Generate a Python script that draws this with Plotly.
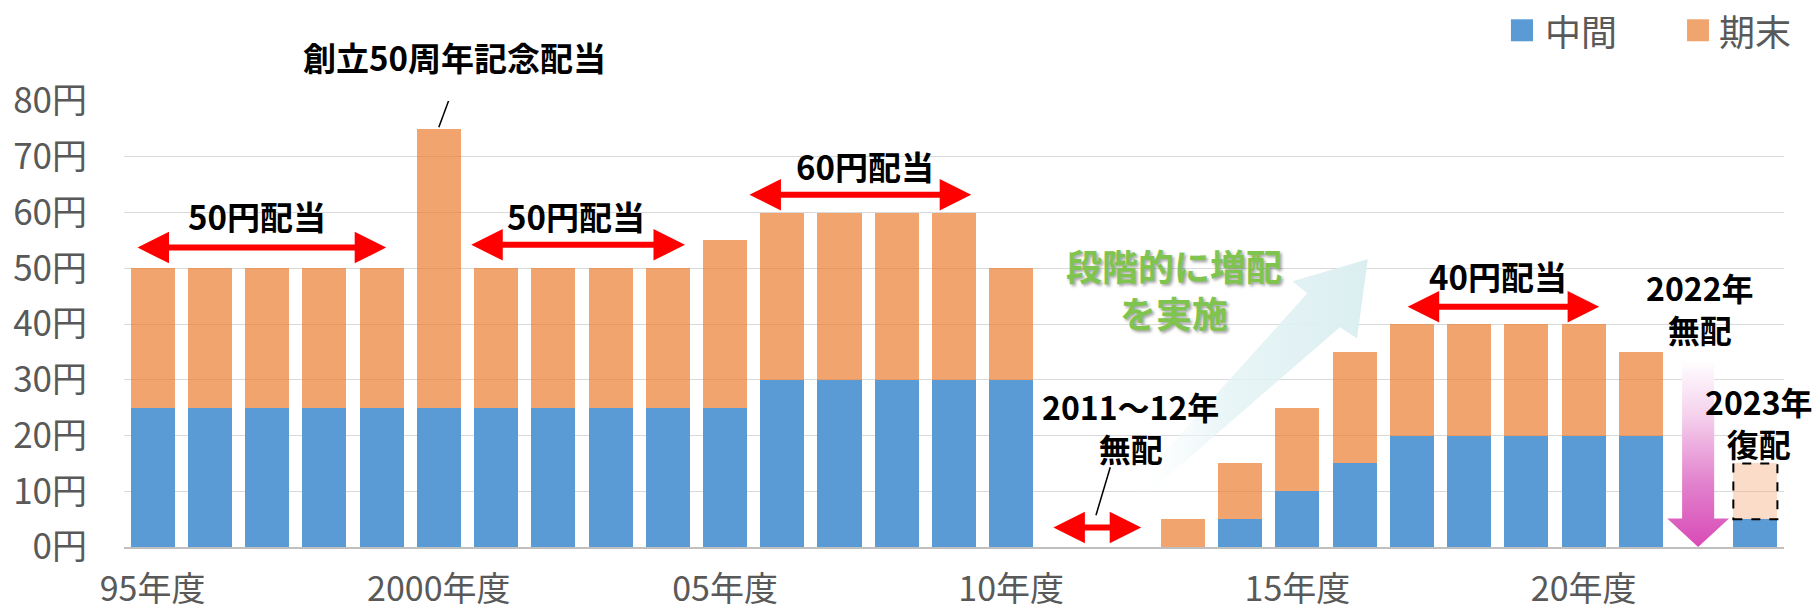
import plotly.graph_objects as go

# ---------------- data ----------------
years = list(range(1995, 2024))
interim = [25, 25, 25, 25, 25, 25, 25, 25, 25, 25, 25,
           30, 30, 30, 30, 30,
           0, 0, 0, 5, 10, 15, 20, 20, 20, 20, 20, 0, 5]
final = [25, 25, 25, 25, 25, 50, 25, 25, 25, 25, 30,
         30, 30, 30, 30, 20,
         0, 0, 5, 10, 15, 20, 20, 20, 20, 20, 15, 0, 0]
forecast_years = [2023]
forecast_final = [10]

xtick_vals = [1995, 2000, 2005, 2010, 2015, 2020]
xtick_text = ["95年度", "2000年度", "05年度", "10年度", "15年度", "20年度"]
ytick_vals = [0, 10, 20, 30, 40, 50, 60, 70, 80]
ytick_text = ["0円", "10円", "20円", "30円", "40円", "50円", "60円", "70円", "80円"]

FONT = "Noto Sans CJK JP"
GRAY = "#595959"
BLUE = "#5B9BD5"
ORANGE = "rgba(237,125,49,0.7)"
BAR_W = 0.77

fig = go.Figure()

# ---------------- decorations under bars ----------------
# light blue rising arrow (2013-2016)
up_x = [2012.04, 2015.17, 2014.91, 2016.23, 2016.04, 2015.74, 2012.25, 2012.04]
up_y = [9.81, 45.5, 47.66, 51.6, 37.43, 39.4, 8.38, 9.81]
fig.add_trace(go.Scatter(
    x=up_x, y=up_y, mode="lines", fill="toself", line=dict(width=0),
    fillgradient=dict(type="horizontal", start=2012.0, stop=2016.25,
                      colorscale=[[0, "rgba(255,255,255,0)"],
                                  [0.4, "rgba(228,243,245,0.8)"],
                                  [1, "rgba(218,238,240,1)"]]),
    hoverinfo="skip", showlegend=False))

# pink falling arrow (2022)
dn_x = [2021.72, 2022.28, 2022.28, 2022.54, 2022.0, 2021.46, 2021.72, 2021.72]
dn_y = [33.5, 33.5, 5.1, 5.1, 0.0, 5.1, 5.1, 33.5]
fig.add_trace(go.Scatter(
    x=dn_x, y=dn_y, mode="lines", fill="toself", line=dict(width=0),
    fillgradient=dict(type="vertical", start=0, stop=33.5,
                      colorscale=[[0, "#D84AB6"], [0.35, "#E283CE"],
                                  [0.7, "#F5D0EC"], [1, "#FFFFFF"]]),
    hoverinfo="skip", showlegend=False))

# ---------------- bars ----------------
fig.add_trace(go.Bar(x=years, y=interim, name="中間",
                     marker=dict(color=BLUE, line=dict(width=0)),
                     width=BAR_W, showlegend=False))
fig.add_trace(go.Bar(x=years, y=final, name="期末",
                     marker=dict(color=ORANGE, line=dict(width=0)),
                     width=BAR_W, showlegend=False))
fig.add_trace(go.Bar(x=forecast_years, y=forecast_final, name="期末（予想）",
                     marker=dict(color="rgba(247,177,135,0.45)", line=dict(width=0)),
                     width=BAR_W, showlegend=False))

shapes = []
# dashed outline around forecast
for fy, fv in zip(forecast_years, forecast_final):
    base = interim[years.index(fy)] + final[years.index(fy)]
    shapes.append(dict(type="rect", xref="x", yref="y",
                       x0=fy - BAR_W / 2, x1=fy + BAR_W / 2, y0=base, y1=base + fv,
                       line=dict(color="black", width=2, dash="dash"),
                       fillcolor="rgba(0,0,0,0)", layer="above"))

# thin leader lines
shapes.append(dict(type="line", xref="x", yref="y", x0=2000.27, y0=82.8, x1=2000.0, y1=75.3,
                   line=dict(color="black", width=1.5)))
shapes.append(dict(type="line", xref="x", yref="y", x0=2011.73, y0=14.3, x1=2011.48, y1=5.7,
                   line=dict(color="black", width=1.5)))

# custom legend squares
shapes.append(dict(type="rect", xref="paper", yref="paper", x0=0.8355, x1=0.8488,
                   y0=1.1339, y1=1.1832, fillcolor=BLUE, line=dict(width=0)))
shapes.append(dict(type="rect", xref="paper", yref="paper", x0=0.9416, x1=0.9548,
                   y0=1.1339, y1=1.1832, fillcolor="#F0A46E", line=dict(width=0)))

annotations = []


def red_arrow(x0, x1, y):
    annotations.append(dict(x=x1, y=y, ax=x0, ay=y, xref="x", yref="y",
                            axref="x", ayref="y", text="", showarrow=True,
                            arrowside="end+start", arrowhead=2, startarrowhead=2,
                            arrowsize=1.05, startarrowsize=1.05, arrowwidth=6,
                            arrowcolor="#FF0000", standoff=0, startstandoff=0))


def label(text, x, y, size=33, color="black", yref="y", **kw):
    annotations.append(dict(x=x, y=y, xref="x", yref=yref, text=text,
                            showarrow=False, xanchor="center", yanchor="middle",
                            align="center",
                            font=dict(family=FONT, size=size, color=color,
                                      weight="bold", **kw)))


red_arrow(1994.71, 1999.08, 53.7)
red_arrow(2000.54, 2004.30, 54.2)
red_arrow(2005.40, 2009.30, 63.2)
red_arrow(2016.90, 2020.27, 43.1)
red_arrow(2010.71, 2012.27, 3.5)

label("創立50周年記念配当", 2000.28, 1.098, yref="paper")
label("50円配当", 1996.82, 59.3)
label("50円配当", 2002.40, 59.3)
label("60円配当", 2007.44, 68.3)
label("40円配当", 2018.51, 48.7)
label("2011～12年<br>無配", 2012.09, 21.6, size=32)
label("2022年<br>無配", 2022.03, 42.9, size=32)
label("2023年<br>復配", 2023.06, 22.5, size=32)
label("段階的に増配", 2012.84, 50.5, size=36, color="#7EC44E",
      shadow="2px 2px 3px rgba(0,0,0,0.35)")
label("を実施", 2012.84, 42.2, size=36, color="#7EC44E",
      shadow="2px 2px 3px rgba(0,0,0,0.35)")

# legend text
annotations.append(dict(x=0.855, y=1.1585, xref="paper", yref="paper", text="中間",
                        showarrow=False, xanchor="left", yanchor="middle",
                        font=dict(family=FONT, size=36, color=GRAY)))
annotations.append(dict(x=0.9595, y=1.1585, xref="paper", yref="paper", text="期末",
                        showarrow=False, xanchor="left", yanchor="middle",
                        font=dict(family=FONT, size=36, color=GRAY)))

fig.update_layout(
    width=1818, height=613,
    margin=dict(l=124, r=34, t=101, b=66, autoexpand=False),
    paper_bgcolor="white", plot_bgcolor="white",
    barmode="stack", bargap=0.23,
    font=dict(family=FONT, color=GRAY),
    showlegend=False,
    shapes=shapes, annotations=annotations,
    xaxis=dict(range=[1994.5, 2023.5], tickmode="array", tickvals=xtick_vals,
               ticktext=xtick_text, tickfont=dict(family=FONT, size=34, color=GRAY),
               showgrid=False, showline=True, linecolor="#BFBFBF", linewidth=1.5,
               ticks="", ticklabelstandoff=11, zeroline=False, fixedrange=True,
               automargin=False),
    yaxis=dict(range=[0, 80], tickmode="array", tickvals=ytick_vals,
               ticktext=ytick_text, tickfont=dict(family=FONT, size=35, color=GRAY),
               showgrid=True, gridcolor="#D9D9D9", gridwidth=1, zeroline=False,
               ticks="", ticklabelstandoff=36, showline=False, fixedrange=True,
               automargin=False),
)

fig.write_html("out.html", config={"displayModeBar": False},
               post_script="document.body.style.margin='0';document.body.style.overflow='hidden';")
